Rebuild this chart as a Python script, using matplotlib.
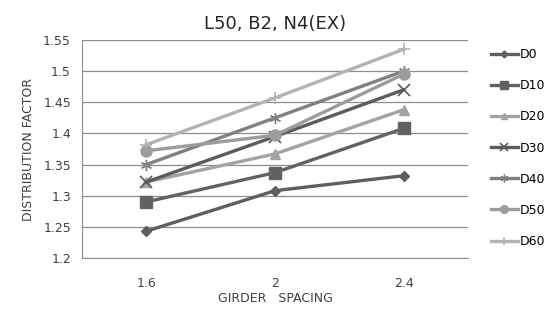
import matplotlib.pyplot as plt
from matplotlib.lines import Line2D

# datos
spacing = ['1.6', '2', '2.4']
labels = ['D0', 'D10', 'D20', 'D30', 'D40', 'D50', 'D60']
d0 = [1.243, 1.308, 1.332]
d10 = [1.290, 1.337, 1.408]
d20 = [1.322, 1.367, 1.438]
d30 = [1.322, 1.395, 1.470]
d40 = [1.350, 1.425, 1.500]
d50 = [1.372, 1.397, 1.495]
d60 = [1.382, 1.457, 1.535]
series = [d0, d10, d20, d30, d40, d50, d60]

colors = ['#5f5f5f', '#626262', '#a3a3a3', '#5c5c5c', '#808080', '#9c9c9c', '#b3b3b3']
markers = ['D', 's', '^', 'x', '*', 'o', '+']
msizes = [5, 8, 7, 8, 8, 8, 9]

plt.rcParams['font.family'] = ['DejaVu Sans']
fig = plt.figure(figsize=(5.55, 3.2), dpi=100)
ax = fig.add_axes([0.148, 0.194, 0.695, 0.681])

x = list(range(len(spacing)))
handles = []
for ys, lab, c, m, ms in zip(series, labels, colors, markers, msizes):
    if m == '*':
        mk = dict(marker=(6, 2, 0), markeredgewidth=1.0)
    elif m in ('x', '+'):
        mk = dict(marker=m, markeredgewidth=1.2)
    else:
        mk = dict(marker=m)
    ax.plot(x, ys, color=c, lw=2.4, mec=c, mfc=c, markersize=ms, **mk)
    handles.append(Line2D([], [], color=c, lw=2.4, mec=c, mfc=c,
                          markersize=ms * 0.7, **mk))

ax.set_xlim(-0.5, 2.5)
ax.set_ylim(1.2, 1.55)
ax.set_yticks([1.2, 1.25, 1.3, 1.35, 1.4, 1.45, 1.5, 1.55])
ax.set_yticklabels(['1.2', '1.25', '1.3', '1.35', '1.4', '1.45', '1.5', '1.55'])
ax.set_xticks(x)
ax.set_xticklabels(spacing)
ax.yaxis.grid(True, color='#8c8c8c', lw=0.9)
ax.set_axisbelow(True)
for s in ['top', 'right']:
    ax.spines[s].set_visible(False)
ax.spines['left'].set_color('#8c8c8c')
ax.spines['bottom'].set_color('#8c8c8c')
ax.tick_params(length=0, labelsize=9, colors='#404040')
ax.tick_params(axis='x', pad=14)
ax.tick_params(axis='y', pad=8)

ax.set_title('L50, B2, N4(EX)', fontsize=13, color='#262626', pad=8)
ax.set_xlabel('GIRDER   SPACING', fontsize=9, color='#404040', labelpad=1)
ax.set_ylabel('DISTRIBUTION FACTOR', fontsize=9, color='#404040', labelpad=6)

fig.legend(handles, labels, loc='upper left', bbox_to_anchor=(0.875, 0.865),
           frameon=False, fontsize=9, labelspacing=1.45, handlelength=2.2,
           handletextpad=0.1, borderaxespad=0)

fig.savefig('out.png', dpi=100)
